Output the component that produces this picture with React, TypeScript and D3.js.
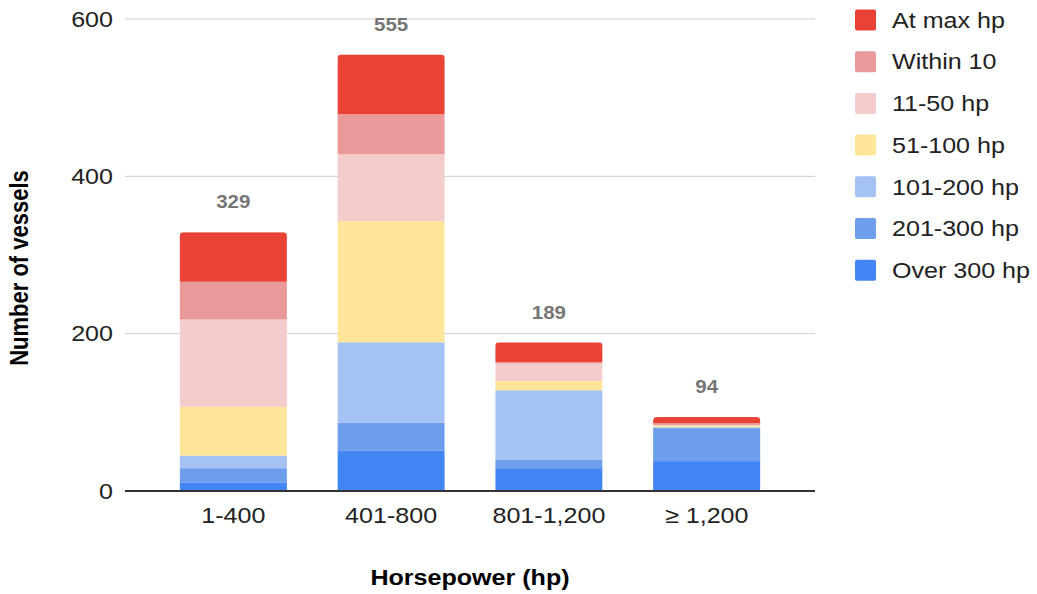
import * as d3 from 'd3'

const categories = ['1-400', '401-800', '801-1,200', '≥ 1,200']
const seriesNames = ['Over 300 hp', '201-300 hp', '101-200 hp', '51-100 hp', '11-50 hp', 'Within 10', 'At max hp']
const seriesColors = ['#4285f4', '#6d9eeb', '#a4c2f4', '#ffe599', '#f4cccc', '#ea9999', '#ea4335']

// one array per series, in category order
const over300 = [11, 51, 29, 38]
const hp201to300 = [18, 36, 11, 42]
const hp101to200 = [16, 102, 88, 1]
const hp51to100 = [62, 154, 12, 2]
const hp11to50 = [111, 85, 22, 1]
const within10 = [48, 51, 2, 2]
const atMax = [63, 76, 25, 8]
const totals = [329, 555, 189, 94]
const yTicks = [0, 200, 400, 600]

const seriesValues = [over300, hp201to300, hp101to200, hp51to100, hp11to50, within10, atMax]

const font = 'Arial, "Liberation Sans", sans-serif'
// the source picture is a little wider than tall, text looks stretched
const stretch = 1.14

function Label(props: {
  x: number
  y: number
  size: number
  anchor?: string
  bold?: boolean
  fill?: string
  rotate?: number
  children: any
}) {
  const { x, y, size, anchor = 'start', bold, fill = '#222', rotate, children } = props
  return (
    <text
      transform={`translate(${x},${y}) scale(${stretch},1)${rotate ? ` rotate(${rotate})` : ''}`}
      dy="0.35em"
      textAnchor={anchor}
      fontSize={size}
      fontWeight={bold ? 'bold' : 'normal'}
      fill={fill}
    >
      {children}
    </text>
  )
}

export default function App() {
  const width = 1037
  const height = 594
  const plot = { left: 125, right: 815, top: 19, bottom: 491 }

  const x = d3
    .scaleBand()
    .domain(categories)
    .range([plot.left, plot.right])
    .paddingInner(0.32)
    .paddingOuter(0.346)

  const y = d3.scaleLinear().domain([0, 600]).range([plot.bottom, plot.top])

  const table = categories.map((c, i) => {
    const row: Record<string, number | string> = { cat: c }
    seriesNames.forEach((s, j) => (row[s] = seriesValues[j][i]))
    return row
  })
  const stacked = d3.stack<Record<string, number | string>>().keys(seriesNames)(table as any)

  return (
    <svg
      width={width}
      height={height}
      style={{ position: 'absolute', left: 0, top: 0, background: '#fff' }}
      fontFamily={font}
    >
      <defs>
        {categories.map((c, i) => (
          <clipPath id={`clip-${i}`} key={c}>
            <rect
              x={x(c)}
              y={y(totals[i])}
              width={x.bandwidth()}
              height={y(0) - y(totals[i]) + 5}
              rx={4}
            />
          </clipPath>
        ))}
      </defs>

      {yTicks.map((t) => (
        <g key={t}>
          {t !== 0 && (
            <line x1={plot.left} x2={plot.right} y1={y(t)} y2={y(t)} stroke="#cccccc" strokeWidth={1} />
          )}
          <Label x={113} y={y(t)} size={22} anchor="end">
            {t}
          </Label>
        </g>
      ))}

      {categories.map((c, i) => (
        <g key={c} clipPath={`url(#clip-${i})`}>
          {stacked.map((layer, j) => (
            <rect
              key={seriesNames[j]}
              x={x(c)}
              y={y(layer[i][1])}
              width={x.bandwidth()}
              height={y(layer[i][0]) - y(layer[i][1])}
              fill={seriesColors[j]}
            />
          ))}
        </g>
      ))}

      <line x1={plot.left} x2={plot.right} y1={y(0)} y2={y(0)} stroke="#333" strokeWidth={2} />

      {categories.map((c, i) => (
        <Label
          key={c}
          x={(x(c) || 0) + x.bandwidth() / 2}
          y={y(totals[i]) - 30}
          size={18}
          anchor="middle"
          bold
          fill="#757575"
        >
          {totals[i]}
        </Label>
      ))}

      {categories.map((c) => (
        <Label key={c} x={(x(c) || 0) + x.bandwidth() / 2} y={515} size={22} anchor="middle">
          {c}
        </Label>
      ))}

      <Label x={470} y={577} size={22} anchor="middle" bold fill="#000">
        Horsepower (hp)
      </Label>
      <Label x={19} y={268} size={22} anchor="middle" bold fill="#000" rotate={-90}>
        Number of vessels
      </Label>

      {seriesNames
        .slice()
        .reverse()
        .map((s, k) => {
          const j = seriesNames.length - 1 - k
          const cy = 20 + k * 41.7
          return (
            <g key={s}>
              <rect x={855} y={cy - 10.5} width={21} height={21} rx={2} fill={seriesColors[j]} />
              <Label x={892} y={cy} size={22}>
                {s}
              </Label>
            </g>
          )
        })}
    </svg>
  )
}
